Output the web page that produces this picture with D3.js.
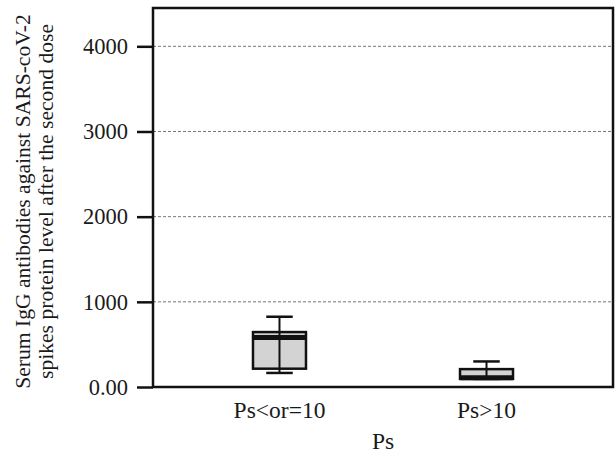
<!DOCTYPE html>
<html>
<head>
<meta charset="utf-8">
<script src="https://cdn.jsdelivr.net/npm/d3@7"></script>
<style>
  body { margin: 0; background: #fff; }
</style>
</head>
<body>
<div id="chart"></div>
<script>
// groups on the x axis
const categories = ["Ps<or=10", "Ps>10"];
// box stats
const whiskerLow = [165, 95];
const q1 = [215, 95];
const median = [580, 110];
const q3 = [645, 210];
const whiskerHigh = [825, 300];
// y ticks
const tickValues = [0, 1000, 2000, 3000, 4000];
const tickLabels = ["0.00", "1000", "2000", "3000", "4000"];

const width = 615, height = 453;
const margin = { left: 153, right: 2, top: 8, bottom: 66 };
const serif = "'Liberation Serif', 'Times New Roman', Times, serif";

const svg = d3.select("#chart")
  .append("svg")
  .attr("width", width)
  .attr("height", height);

const x = d3.scaleBand()
  .domain(categories)
  .range([margin.left, width - margin.right])
  .paddingInner(0.744)
  .paddingOuter(0.483);

const y = d3.scaleLinear()
  .domain([0, 4450])
  .range([height - margin.bottom, margin.top]);

//dashed gridlines (not at zero)
svg.append("g")
  .selectAll("line")
  .data(tickValues.filter((d) => d > 0))
  .enter()
  .append("line")
    .attr("x1", margin.left)
    .attr("x2", width - margin.right)
    .attr("y1", (d) => y(d))
    .attr("y2", (d) => y(d))
    .attr("stroke", "#777")
    .attr("stroke-width", 1)
    .attr("stroke-dasharray", "3,2");

//y axis
const yAxis = svg.append("g")
  .attr("transform", `translate(${margin.left}, 0)`)
  .call(
    d3.axisLeft(y)
      .tickValues(tickValues)
      .tickFormat((d, i) => tickLabels[i])
      .tickSize(16)
      .tickPadding(9)
  );
yAxis.attr("font-family", null).attr("font-size", null);
yAxis.select(".domain").remove();
yAxis.selectAll(".tick line").attr("stroke", "#111").attr("stroke-width", 2.5);
yAxis.selectAll(".tick text")
  .style("font-family", serif)
  .style("font-size", "22.5px")
  .attr("fill", "#1a1a1a");

//x axis labels
const xAxis = svg.append("g")
  .attr("transform", `translate(0, ${height - margin.bottom})`)
  .call(d3.axisBottom(x).tickSize(0).tickPadding(14));
xAxis.attr("font-family", null).attr("font-size", null);
xAxis.select(".domain").remove();
xAxis.selectAll(".tick text")
  .style("font-family", serif)
  .style("font-size", "23.5px")
  .attr("fill", "#1a1a1a");

//boxes
const boxes = svg.append("g")
  .selectAll("g")
  .data(categories)
  .enter()
  .append("g");

const cx = (d) => x(d) + x.bandwidth() / 2;
const capW = x.bandwidth() / 2;

boxes.append("rect")
  .attr("x", (d) => x(d))
  .attr("width", x.bandwidth())
  .attr("y", (d, i) => y(q3[i]))
  .attr("height", (d, i) => y(q1[i]) - y(q3[i]))
  .attr("fill", "#d3d3d3")
  .attr("stroke", "#111")
  .attr("stroke-width", 2.5);

//whisker stem, drawn through the box
boxes.append("line")
  .attr("x1", cx).attr("x2", cx)
  .attr("y1", (d, i) => y(whiskerLow[i]))
  .attr("y2", (d, i) => y(whiskerHigh[i]))
  .attr("stroke", "#111").attr("stroke-width", 2);

//caps
[whiskerLow, whiskerHigh].forEach((arr) => {
  boxes.append("line")
    .attr("x1", (d) => cx(d) - capW / 2)
    .attr("x2", (d) => cx(d) + capW / 2)
    .attr("y1", (d, i) => y(arr[i]))
    .attr("y2", (d, i) => y(arr[i]))
    .attr("stroke", "#111").attr("stroke-width", 2.5);
});

//median
boxes.append("line")
  .attr("x1", (d) => x(d))
  .attr("x2", (d) => x(d) + x.bandwidth())
  .attr("y1", (d, i) => y(median[i]))
  .attr("y2", (d, i) => y(median[i]))
  .attr("stroke", "#111").attr("stroke-width", 5);

//frame
svg.append("rect")
  .attr("x", margin.left)
  .attr("y", margin.top)
  .attr("width", width - margin.right - margin.left)
  .attr("height", height - margin.bottom - margin.top)
  .attr("fill", "none")
  .attr("stroke", "#111")
  .attr("stroke-width", 2.5);

//axis titles
svg.append("text")
  .attr("x", (margin.left + width - margin.right) / 2)
  .attr("y", 449)
  .attr("text-anchor", "middle")
  .style("font-family", serif)
  .style("font-size", "23.5px")
  .attr("fill", "#1a1a1a")
  .text("Ps");

const yTitle = svg.append("text")
  .attr("transform", `translate(30, ${(margin.top + height - margin.bottom) / 2 + 4}) rotate(-90)`)
  .attr("text-anchor", "middle")
  .style("font-family", serif)
  .style("font-size", "21.6px")
  .attr("fill", "#1a1a1a");
yTitle.append("tspan").attr("x", 0).attr("dy", 0).text("Serum IgG antibodies against SARS-coV-2");
yTitle.append("tspan").attr("x", 0).attr("dy", 23).text("spikes protein level after the second dose");
</script>
</body>
</html>
